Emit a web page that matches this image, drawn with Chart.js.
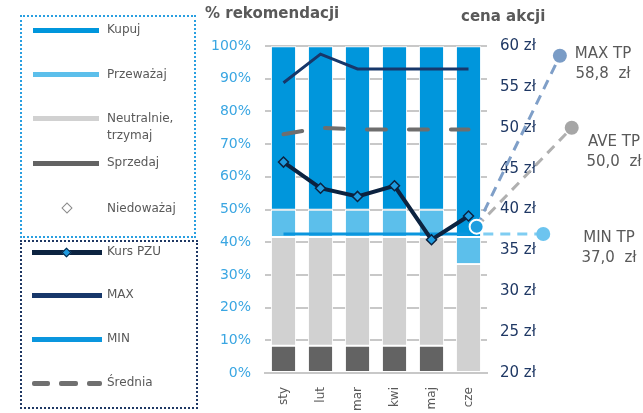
<!DOCTYPE html>
<html>
<head>
<meta charset="utf-8">
<script src="https://cdn.jsdelivr.net/npm/chart.js@4.4.1/dist/chart.umd.min.js"></script>
<style>
  body { margin: 0; background: #fff; font-family: "DejaVu Sans", sans-serif; }
  #wrap { position: relative; width: 643px; height: 413px; overflow: hidden; }
  #chart { position: absolute; left: 0; top: 0; }
  .box { position: absolute; box-sizing: border-box; }
  .lg { position: absolute; font-size: 12px; color: #595959; line-height: 17px; }
  .sw { position: absolute; height: 5px; }
  .title { position: absolute; font-weight: bold; font-size: 15px; color: #595959; }
  .tp { position: absolute; width: 90px; text-align: center; font-size: 15px; color: #595959; line-height: 20px; }
</style>
</head>
<body>
<div id="wrap">
  <canvas id="chart" width="643" height="413"></canvas>

  <div class="title" style="left:205px;top:4px;">% rekomendacji</div>
  <div class="title" style="left:461px;top:7px;">cena akcji</div>

  <!-- legend: recommendations -->
  <div class="box" style="left:20px;top:15px;width:176px;height:223px;border:2px dotted #2a9fe0;"></div>
  <div class="sw" style="left:33px;top:28px;width:66px;background:#0096dc;"></div>
  <div class="lg" style="left:107px;top:21px;">Kupuj</div>
  <div class="sw" style="left:33px;top:72px;width:66px;background:#5cbfeb;"></div>
  <div class="lg" style="left:107px;top:66px;">Przeważaj</div>
  <div class="sw" style="left:33px;top:116px;width:66px;background:#d1d1d1;"></div>
  <div class="lg" style="left:107px;top:110px;">Neutralnie,<br>trzymaj</div>
  <div class="sw" style="left:33px;top:161px;width:66px;background:#636363;"></div>
  <div class="lg" style="left:107px;top:154px;">Sprzedaj</div>
  <div style="position:absolute;left:63px;top:204px;width:6px;height:6px;border:1.5px solid #8a8a8a;transform:rotate(45deg);"></div>
  <div class="lg" style="left:107px;top:200px;">Niedoważaj</div>

  <!-- legend: prices -->
  <div class="box" style="left:20px;top:240px;width:178px;height:169px;border:2px dotted #1f3864;"></div>
  <div class="sw" style="left:32px;top:250px;width:70px;background:#0c2340;"></div>
  <div style="position:absolute;left:63px;top:249px;width:5px;height:5px;background:#1e9be0;border:1.5px solid #0c2340;transform:rotate(45deg);"></div>
  <div class="lg" style="left:107px;top:243px;">Kurs PZU</div>
  <div class="sw" style="left:32px;top:293px;width:70px;background:#17376a;"></div>
  <div class="lg" style="left:107px;top:286px;">MAX</div>
  <div class="sw" style="left:32px;top:337px;width:70px;background:#0a96de;"></div>
  <div class="lg" style="left:107px;top:330px;">MIN</div>
  <div class="sw" style="left:32px;top:381px;width:18px;background:#707070;border-radius:2px;"></div>
  <div class="sw" style="left:59px;top:381px;width:19px;background:#707070;border-radius:2px;"></div>
  <div class="sw" style="left:87px;top:381px;width:15px;background:#707070;border-radius:2px;"></div>
  <div class="lg" style="left:107px;top:374px;">Średnia</div>

  <!-- target price labels -->
  <div class="tp" style="left:558px;top:43px;">MAX TP<br>58,8&nbsp; zł</div>
  <div class="tp" style="left:569px;top:131px;">AVE TP<br>50,0&nbsp; zł</div>
  <div class="tp" style="left:564px;top:227px;">MIN TP<br>37,0&nbsp; zł</div>
</div>

<script>
// months and analyst recommendation shares (%)
const months = ["sty", "lut", "mar", "kwi", "maj", "cze"];
const kupuj = [50, 50, 50, 50, 50, 58.3];
const przewazaj = [8.3, 8.3, 8.3, 8.3, 8.3, 8.3];
const neutralnie = [33.3, 33.3, 33.3, 33.3, 33.3, 33.3];
const niedowazaj = [0, 0, 0, 0, 0, 0];
const sprzedaj = [8.3, 8.3, 8.3, 8.3, 8.3, 0];

// share price and target prices (zł)
const kursPZU = [45.8, 42.6, 41.6, 42.9, 36.3, 39.2];
const maxTarget = [55.5, 59.0, 57.2, 57.2, 57.2, 57.2];
const minTarget = [37.0, 37.0, 37.0, 37.0, 37.0, 37.0];
const sredniaTarget = [49.2, 50.0, 49.8, 49.8, 49.8, 49.8];

// current target prices shown on the right
const tpCurrent = 37.9;
const tpMax = 58.8;
const tpAve = 50.0;
const tpMin = 37.0;

const pctTicks = [0, 10, 20, 30, 40, 50, 60, 70, 80, 90, 100];
const priceTicks = [20, 25, 30, 35, 40, 45, 50, 55, 60];

const barDefaults = { type: "bar", yAxisID: "yPct", stack: "rec", grouped: false, borderColor: "#fff", borderWidth: 1,
    borderSkipped: false, barPercentage: 0.68, categoryPercentage: 1, order: 10 };

// end markers of the target price fan sit outside the chart area, where Chart.js skips points
const tpEndPoints = {
    id: "tpEndPoints",
    afterDatasetsDraw(chart) {
        const c = chart.ctx;
        chart.data.datasets.forEach((ds, i) => {
            if (!ds.tpEnd) return;
            const pts = chart.getDatasetMeta(i).data;
            const p = pts[pts.length - 1];
            c.save();
            c.beginPath();
            c.arc(p.x, p.y, 7, 0, Math.PI * 2);
            c.fillStyle = ds.tpEnd;
            c.fill();
            c.restore();
        });
    }
};

const ctx = document.getElementById("chart").getContext("2d");
const chart = new Chart(ctx, {
    data: {
        labels: months,
        datasets: [
            { ...barDefaults, label: "Sprzedaj", data: sprzedaj, backgroundColor: "#636363" },
            { ...barDefaults, label: "Niedoważaj", data: niedowazaj, backgroundColor: "#8a8a8a", borderWidth: 0 },
            { ...barDefaults, label: "Neutralnie, trzymaj", data: neutralnie, backgroundColor: "#d1d1d1" },
            { ...barDefaults, label: "Przeważaj", data: przewazaj, backgroundColor: "#5cbfeb" },
            { ...barDefaults, label: "Kupuj", data: kupuj, backgroundColor: "#0096dc" },
            { type: "line", label: "MAX", data: maxTarget, yAxisID: "yPrice", borderColor: "#17376a", borderWidth: 3, pointRadius: 0, order: 4 },
            { type: "line", label: "Średnia", data: sredniaTarget, yAxisID: "yPrice", borderColor: "#6e6e6e", borderWidth: 4,
              borderDash: [19, 23], borderCapStyle: "round", pointRadius: 0, order: 4 },
            { type: "line", label: "MIN", data: minTarget, yAxisID: "yPrice", borderColor: "#0a96de", borderWidth: 3, pointRadius: 0, order: 3 },
            { type: "line", label: "Kurs PZU", data: kursPZU, yAxisID: "yPrice", borderColor: "#0c2340", borderWidth: 4,
              pointStyle: "rectRot", pointRadius: 5, pointBackgroundColor: "#1e9be0", pointBorderColor: "#0c2340", pointBorderWidth: 1.5, order: 2 },
            // target price fan outside the plot
            { type: "line", label: "MAX TP", xAxisID: "xTP", yAxisID: "yPrice", clip: false, order: 1, tpEnd: "#7a9cc6",
              data: [{ x: 5.22, y: tpCurrent }, { x: 7.47, y: tpMax }],
              borderColor: "#7f9fc8", borderWidth: 3, borderDash: [10, 7], pointRadius: 0 },
            { type: "line", label: "AVE TP", xAxisID: "xTP", yAxisID: "yPrice", clip: false, order: 1, tpEnd: "#a6a6a6",
              data: [{ x: 5.22, y: tpCurrent }, { x: 7.79, y: tpAve }],
              borderColor: "#b0b0b0", borderWidth: 3, borderDash: [10, 7], pointRadius: 0 },
            { type: "line", label: "MIN TP", xAxisID: "xTP", yAxisID: "yPrice", clip: false, order: 1, tpEnd: "#6cc4ef",
              data: [{ x: 5.4, y: tpMin }, { x: 7.02, y: tpMin }],
              borderColor: "#7fcdf2", borderWidth: 3, borderDash: [10, 7], pointRadius: 0 },
            { type: "line", label: "TP start", xAxisID: "xTP", yAxisID: "yPrice", clip: false, order: 0,
              data: [{ x: 5.22, y: tpCurrent }], showLine: false,
              pointRadius: 7, pointBackgroundColor: "#1f9fe0", pointBorderColor: "#fff", pointBorderWidth: 2 }
        ]
    },
    options: {
        responsive: false,
        animation: false,
        layout: { padding: { left: 200, right: 96, top: 46, bottom: 0 } },
        plugins: { legend: { display: false }, tooltip: { enabled: false } },
        scales: {
            x: {
                stacked: true,
                grid: { display: false },
                border: { color: "#c8c8c8", width: 2 },
                ticks: { color: "#595959", font: { family: "DejaVu Sans", size: 12 }, minRotation: 90, maxRotation: 90, autoSkip: false, padding: 6 },
                afterFit: s => { s.height = 40; }
            },
            xTP: { type: "linear", display: false, min: -0.5, max: 5.5, offset: false },
            yPct: {
                type: "linear", position: "left", stacked: true, min: 0, max: 100,
                afterBuildTicks: s => { s.ticks = pctTicks.map(v => ({ value: v })); },
                grid: { color: "#c8c8c8", lineWidth: 2, drawTicks: false },
                border: { display: false },
                ticks: { color: "#3aa6e2", font: { family: "DejaVu Sans", size: 14 }, padding: 14, callback: v => v + "%" },
                afterFit: s => { s.width = 65; }
            },
            yPrice: {
                type: "linear", position: "right", min: 20, max: 60,
                afterBuildTicks: s => { s.ticks = priceTicks.map(v => ({ value: v })); },
                grid: { display: false, drawTicks: false },
                border: { display: false },
                ticks: { color: "#1f3864", font: { family: "DejaVu Sans", size: 15 }, padding: 13, callback: v => v + " zł" },
                afterFit: s => { s.width = 60; }
            }
        }
    },
    plugins: [tpEndPoints]
});
</script>
</body>
</html>
